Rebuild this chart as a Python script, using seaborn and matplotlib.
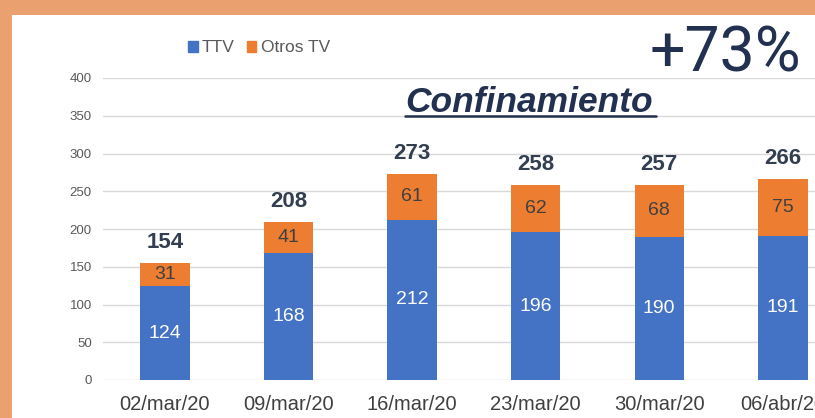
#importing libraries
import pandas as pd
import matplotlib
matplotlib.use("Agg")
import matplotlib.pyplot as plt
from matplotlib.patches import Patch, Rectangle
from matplotlib.lines import Line2D
import seaborn as sns

#chart data
fechas = ["02/mar/20", "09/mar/20", "16/mar/20", "23/mar/20", "30/mar/20", "06/abr/20"]
ttv = [124, 168, 212, 196, 190, 191]
otros_tv = [31, 41, 61, 62, 68, 75]
totales = [154, 208, 273, 258, 257, 266]
y_ticks = [0, 50, 100, 150, 200, 250, 300, 350, 400]

df = pd.DataFrame({"fecha": fechas, "TTV": ttv, "Otros TV": otros_tv, "total": totales})
df["tope"] = df["TTV"] + df["Otros TV"]

#colors
azul = "#4472C4"
naranja = "#ED7D31"
borde = "#EAA06F"
navy = "#22314F"

sns.set_style("white")
plt.rcParams["font.family"] = ["Liberation Sans", "DejaVu Sans"]

fig = plt.figure(figsize=(8.15, 4.18), dpi=100)
fig.patch.set_facecolor(borde)
fig.add_artist(Rectangle((12 / 815, 0), 1, (418 - 15) / 418, transform=fig.transFigure,
                         facecolor="white", edgecolor="none", zorder=0))

ax = fig.add_axes([103 / 815, 38 / 418, 712 / 815, 302 / 418])
ax.set_facecolor("none")

#stacked bars: orange on the full height, blue on top of it
sns.barplot(data=df, x="fecha", y="tope", color=naranja, width=0.4, saturation=1,
            linewidth=0, ax=ax, zorder=3)
sns.barplot(data=df, x="fecha", y="TTV", color=azul, width=0.4, saturation=1,
            linewidth=0, ax=ax, zorder=4)

ax.set_ylim(0, 400)
ax.set_xlim(-0.5, 5.26)
ax.set_yticks(y_ticks)
ax.yaxis.grid(True, color="#D9D9D9", linewidth=1)
ax.set_axisbelow(True)
for s in ax.spines.values():
    s.set_visible(False)
ax.set_xlabel("")
ax.set_ylabel("")
ax.tick_params(axis="y", length=0, pad=8, labelsize=9.5, labelcolor="#595959")
ax.tick_params(axis="x", length=0, pad=11, labelsize=14.5, labelcolor="#404040")

#value labels
for i, row in df.iterrows():
    ax.text(i, row["TTV"] / 2, str(row["TTV"]), ha="center", va="center",
            color="white", fontsize=14, zorder=5)
    ax.text(i, row["TTV"] + row["Otros TV"] / 2, str(row["Otros TV"]), ha="center", va="center",
            color="#404040", fontsize=14, zorder=5)
    ax.annotate(str(row["total"]), (i, row["tope"]), xytext=(0, 7), textcoords="offset points",
                ha="center", va="bottom", color="#333F50", fontsize=16, fontweight="bold")

#legend
handles = [Patch(color=azul, label="TTV"), Patch(color=naranja, label="Otros TV")]
fig.legend(handles=handles, loc="center", bbox_to_anchor=(259 / 815, 1 - 48 / 418), ncol=2,
           frameon=False, fontsize=12.5, handlelength=0.55, handleheight=0.55,
           handletextpad=0.25, columnspacing=0.7, labelcolor="#595959")

#annotations
fig.text(725 / 815, 1 - 55 / 418, "+73%", ha="center", va="center", fontsize=45,
         color=navy, family=["Roboto", "DejaVu Sans"], fontweight="normal")
fig.text(405 / 815, 1 - 112 / 418, "Confinamiento", ha="left", va="baseline", fontsize=25.5,
         color=navy, family=["Liberation Sans", "DejaVu Sans"], fontweight="bold", fontstyle="italic")
fig.add_artist(Line2D([405 / 815, 656 / 815], [1 - 116 / 418, 1 - 116 / 418],
                      transform=fig.transFigure, color=navy, linewidth=1.8))

plt.savefig("out.png", dpi=100, facecolor=fig.get_facecolor())
